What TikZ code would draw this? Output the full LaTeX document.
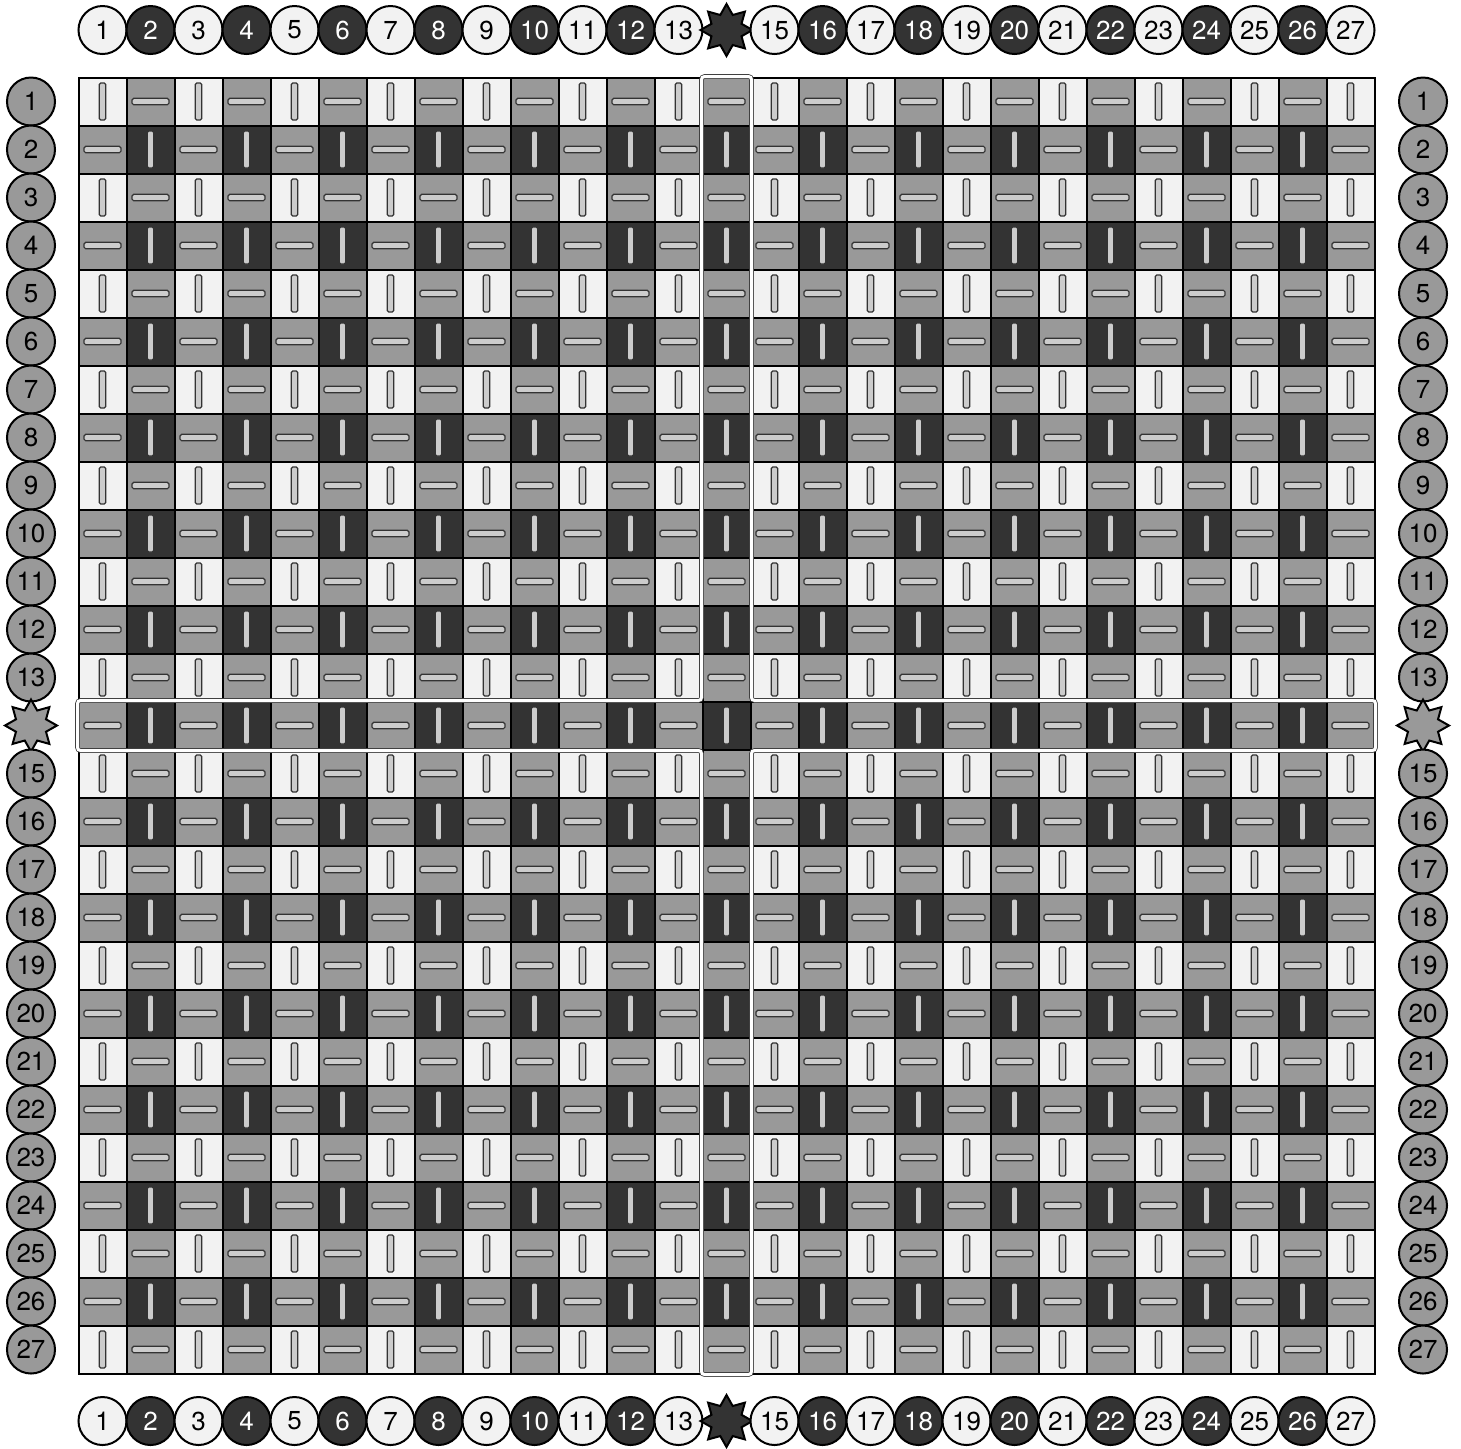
\documentclass[tikz,border=0pt]{standalone}
\usepackage{fontspec}
\setmainfont{TeX Gyre Heros}
\usepackage{tikz}
\usetikzlibrary{shapes,calc}
\definecolor{cell0}{HTML}{333333}
\definecolor{cell1}{HTML}{999999}
\definecolor{cell2}{HTML}{F2F2F2}
\definecolor{barfill}{HTML}{CCCCCC}

\begin{document}
\begin{tikzpicture}[x=0.5pt,y=-0.5pt,
  cell/.style={draw=black,line width=1pt},
  bar/.style={draw=black!80,fill=barfill,line width=0.6pt,rounded corners=0.8pt},
  tag/.style={circle,draw=black,line width=1pt,minimum size=24pt,inner sep=0pt,font=\fontsize{13}{15}\selectfont},
  startag/.style={star,star points=8,star point ratio=1.6,draw=black,line width=1pt,minimum size=26pt,inner sep=0pt},
  frame/.style={draw=black!75,line width=0.4pt,double=white,double distance=1.5pt,rounded corners=1.5pt}]
\useasboundingbox (0,0) rectangle (1461,1448);
\begin{scope}[shift={(78.5,77.5)}]
\foreach \i in {1,...,27} {
  \foreach \j in {1,...,27} {
    \pgfmathtruncatemacro{\s}{mod(\i,2)+mod(\j,2)}
    \pgfmathsetmacro{\cx}{(\j-0.5)*48}
    \pgfmathsetmacro{\cy}{(\i-0.5)*48}
    \draw[cell,fill=cell\s] ({(\j-1)*48},{(\i-1)*48}) rectangle ++(48,48);
    \ifnum\s=1
      \draw[bar] (\cx-18.5,\cy-3.2) rectangle (\cx+18.5,\cy+3.2);
    \else
      \draw[bar] (\cx-3.3,\cy-18.5) rectangle (\cx+3.3,\cy+18.5);
    \fi
  }
}
\end{scope}
\draw[frame] (701.5,76.5) -- (751.5,76.5) -- (751.5,700.5) -- (1375.5,700.5) -- (1375.5,750.5)
  -- (751.5,750.5) -- (751.5,1374.5) -- (701.5,1374.5) -- (701.5,750.5) -- (77.5,750.5)
  -- (77.5,700.5) -- (701.5,700.5) -- cycle;
\foreach \j in {1,...,27} {
  \pgfmathsetmacro{\lx}{78.5+(\j-0.5)*48}
  \ifnum\j=14
    \node[startag,fill=cell0] (top-\j) at (\lx,30) {};
    \node[startag,fill=cell0] (bottom-\j) at (\lx,1421) {};
  \else
    \ifodd\j
      \node[tag,fill=cell2] (top-\j) at (\lx,30) {\j};
      \node[tag,fill=cell2] (bottom-\j) at (\lx,1421) {\j};
    \else
      \node[tag,fill=cell0,text=white] (top-\j) at (\lx,30) {\j};
      \node[tag,fill=cell0,text=white] (bottom-\j) at (\lx,1421) {\j};
    \fi
  \fi
}
\foreach \i in {1,...,27} {
  \pgfmathsetmacro{\ly}{77.5+(\i-0.5)*48}
  \ifnum\i=14
    \node[startag,fill=cell1] (left-\i) at (31,\ly) {};
    \node[startag,fill=cell1] (right-\i) at (1423,\ly) {};
  \else
    \node[tag,fill=cell1] (left-\i) at (31,\ly) {\i};
    \node[tag,fill=cell1] (right-\i) at (1423,\ly) {\i};
  \fi
}
\end{tikzpicture}
\end{document}
